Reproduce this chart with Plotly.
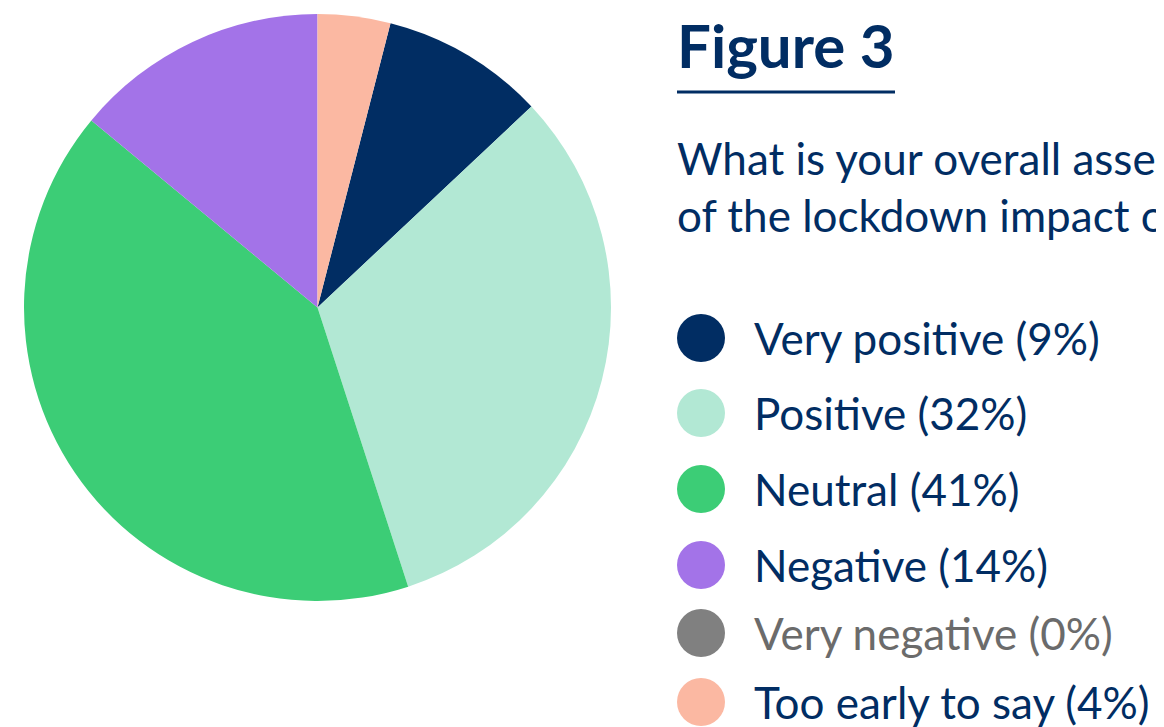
import plotly.graph_objects as go

labels = ["Very positive", "Positive", "Neutral", "Negative", "Very negative", "Too early to say"]
values = [9, 32, 41, 14, 0, 4]
colors = ["#012d63", "#b2e8d4", "#3ccd76", "#a373e8", "#808080", "#fbb8a2"]
text_colors = ["#012d63", "#012d63", "#012d63", "#012d63", "#6b6b6b", "#012d63"]
title_text = "Figure 3"
subtitle_text = "What is your overall assessment<br>of the lockdown impact on your business?"

W, H = 1164, 727
OFF = 8  # page body margin offset
FONT = "Lato"
NAVY = "#012d63"

fig = go.Figure()

# start angle: the last slice ("Too early to say") sits just right of 12 o'clock
start = values[-1] / sum(values) * 360

fig.add_trace(go.Pie(
    labels=labels, values=values, sort=False, direction="clockwise",
    rotation=start, marker=dict(colors=colors, line=dict(width=0)),
    textinfo="none", hoverinfo="label+percent", showlegend=False,
    domain=dict(x=[(24 - OFF) / W, (611 - OFF) / W],
                y=[1 - (601 - OFF) / H, 1 - (14 - OFF) / H]),
))

# legend drawn as a scatter in pixel-space axes
legend_y = [338 - OFF, 413 - OFF, 489 - OFF, 565 - OFF, 633 - OFF, 702 - OFF]
fig.add_trace(go.Scatter(
    x=[701 - OFF] * len(labels), y=legend_y, mode="markers",
    marker=dict(size=48, color=colors, line=dict(width=0)),
    hoverinfo="skip", showlegend=False,
))
for lab, val, tc, yy in zip(labels, values, text_colors, legend_y):
    fig.add_annotation(
        x=752 - OFF, y=yy, xref="x", yref="y", text=f"{lab} ({val}%)",
        showarrow=False, xanchor="left", yanchor="middle",
        font=dict(family=FONT, size=44, color=tc),
    )

fig.add_annotation(
    x=675 - OFF, y=45 - OFF, xref="x", yref="y", text=f"<b>{title_text}</b>",
    showarrow=False, xanchor="left", yanchor="middle",
    font=dict(family=FONT, size=60, color=NAVY),
)
fig.add_shape(type="line", xref="x", yref="y", x0=677 - OFF, x1=895 - OFF,
              y0=92 - OFF, y1=92 - OFF, line=dict(color=NAVY, width=3))
fig.add_annotation(
    x=675 - OFF, y=186 - OFF, xref="x", yref="y", text=subtitle_text,
    showarrow=False, xanchor="left", yanchor="middle", align="left",
    font=dict(family=FONT, size=44, color=NAVY),
)

fig.update_xaxes(range=[0, W], visible=False, fixedrange=True)
fig.update_yaxes(range=[H, 0], visible=False, fixedrange=True)
fig.update_layout(
    width=W, height=H, margin=dict(l=0, r=0, t=0, b=0),
    paper_bgcolor="white", plot_bgcolor="rgba(0,0,0,0)",
    xaxis=dict(domain=[0, 1]), yaxis=dict(domain=[0, 1]),
)

fig.write_html("out.html")
